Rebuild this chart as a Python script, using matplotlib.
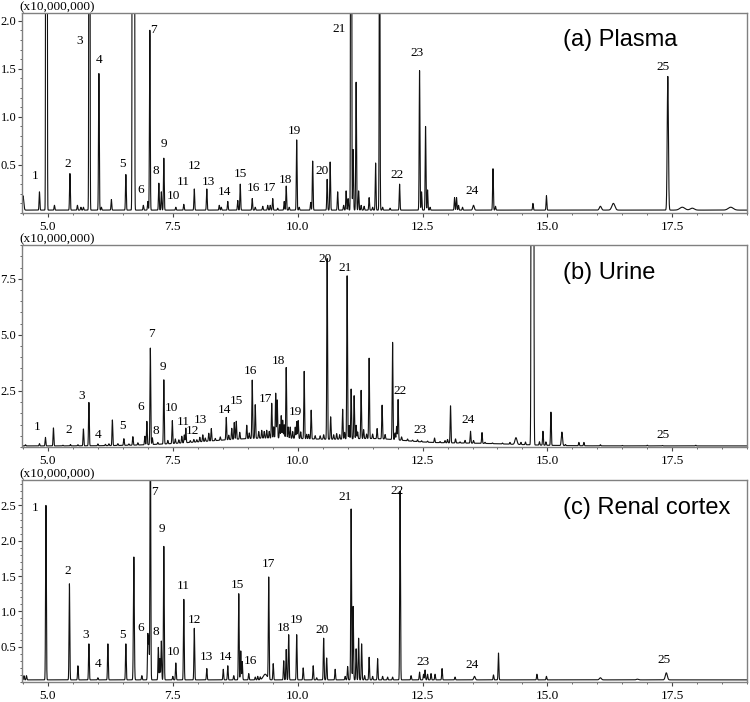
import numpy as np
import matplotlib
matplotlib.use("Agg")
import matplotlib.pyplot as plt
from matplotlib.ticker import MultipleLocator, FixedLocator, FormatStrFormatter

# ---------------- data (retention time [min], height [x1e7], width sigma [min]) -------------
plasma_peaks = [
    (4.50, 0.15, 0.015), (4.83, 0.19, 0.0075), (4.97, 100, 0.0072), (5.13, 0.05, 0.0075),
    (5.44, 0.38, 0.0075), (5.59, 0.05, 0.0075), (5.66, 0.03, 0.0075), (5.71, 0.03, 0.0075),
    (5.83, 20, 0.007), (6.02, 1.42, 0.0075), (6.07, 0.03, 0.0075), (6.27, 0.11, 0.0075),
    (6.56, 0.37, 0.0075), (6.71, 300, 0.009), (6.91, 0.05, 0.0075), (7.00, 0.09, 0.0075),
    (7.04, 1.87, 0.0075), (7.22, 0.28, 0.0075), (7.27, 0.19, 0.0075), (7.32, 0.54, 0.0075),
    (7.56, 0.03, 0.0075), (7.72, 0.06, 0.0075), (7.93, 0.22, 0.0075), (8.18, 0.22, 0.0075),
    (8.43, 0.05, 0.0075), (8.47, 0.03, 0.0075), (8.60, 0.09, 0.0075), (8.80, 0.10, 0.0075),
    (8.85, 0.27, 0.0075), (9.09, 0.12, 0.0075), (9.15, 0.03, 0.0075), (9.30, 0.04, 0.0075),
    (9.40, 0.05, 0.0075), (9.45, 0.05, 0.0075), (9.50, 0.12, 0.0075), (9.60, 0.02, 0.0075),
    (9.73, 0.09, 0.0075), (9.77, 0.25, 0.0075), (9.83, 0.03, 0.0075), (9.98, 0.73, 0.0075),
    (10.03, 0.03, 0.0075), (10.26, 0.08, 0.0075), (10.30, 0.51, 0.0075), (10.59, 0.32, 0.0075),
    (10.65, 0.50, 0.0075), (10.80, 0.19, 0.0075), (10.92, 0.05, 0.0075), (10.97, 0.20, 0.0075),
    (11.01, 0.12, 0.0075), (11.07, 20, 0.007), (11.11, 0.63, 0.0075), (11.17, 1.33, 0.0075),
    (11.22, 0.20, 0.0075), (11.27, 0.05, 0.0075), (11.33, 0.04, 0.0075), (11.43, 0.13, 0.0075),
    (11.50, 0.03, 0.0075), (11.56, 0.49, 0.0075), (11.64, 4.0, 0.007), (11.70, 0.03, 0.0075),
    (11.85, 0.02, 0.0075), (12.04, 0.27, 0.0075), (12.44, 1.45, 0.0075), (12.48, 0.19, 0.0075),
    (12.56, 0.87, 0.0075), (12.60, 0.21, 0.0075), (12.65, 0.03, 0.0075), (13.14, 0.13, 0.0075),
    (13.18, 0.13, 0.0075), (13.22, 0.05, 0.0075), (13.30, 0.03, 0.0075), (13.52, 0.05, 0.015),
    (13.91, 0.43, 0.0075), (13.96, 0.04, 0.0075), (14.71, 0.07, 0.0075), (14.98, 0.15, 0.0075),
    (16.06, 0.04, 0.02), (16.32, 0.07, 0.03), (17.41, 1.39, 0.012), (17.70, 0.03, 0.05),
    (17.90, 0.02, 0.04), (18.67, 0.03, 0.05),
]
plasma_baseline = 0.03
plasma_labels = ["1", "2", "3", "4", "5", "6", "7", "8", "9", "10", "11", "12", "13",
                 "14", "15", "16", "17", "18", "19", "20", "21", "22", "23", "24", "25"]
plasma_label_pos = [
    (4.74, 0.38), (5.39, 0.51), (5.64, 1.79), (6.02, 1.59), (6.49, 0.51), (6.86, 0.24),
    (7.12, 1.90), (7.15, 0.44), (7.32, 0.72), (7.51, 0.18), (7.71, 0.32), (7.93, 0.49),
    (8.21, 0.32), (8.53, 0.22), (8.86, 0.41), (9.11, 0.26), (9.43, 0.26), (9.76, 0.34),
    (9.93, 0.85), (10.49, 0.44), (10.82, 1.91), (11.99, 0.40), (12.39, 1.66), (13.49, 0.23),
    (17.31, 1.52),
]

urine_peaks = [
    # broad background humps
    (9.5, 0.35, 1.3), (11.6, 0.20, 0.6), (13.3, 0.12, 1.0),
    (4.55, 0.05, 0.0075), (4.83, 0.10, 0.0075), (4.95, 0.38, 0.0075), (5.11, 0.80, 0.0075),
    (5.30, 0.03, 0.0075), (5.45, 0.06, 0.0075), (5.60, 0.05, 0.0075), (5.71, 0.75, 0.0075),
    (5.82, 1.93, 0.0075), (6.00, 0.08, 0.0075), (6.15, 0.06, 0.0075), (6.22, 0.08, 0.0075),
    (6.29, 1.14, 0.0075), (6.40, 0.08, 0.0075), (6.52, 0.30, 0.0075), (6.62, 0.06, 0.0075),
    (6.70, 0.38, 0.0075), (6.80, 0.10, 0.0075), (6.94, 0.38, 0.0075), (6.98, 1.04, 0.0075),
    (7.05, 4.30, 0.0075), (7.09, 0.30, 0.0075), (7.20, 0.08, 0.0075), (7.32, 2.86, 0.0075),
    (7.40, 0.15, 0.0075), (7.49, 1.02, 0.0075), (7.55, 0.20, 0.0075), (7.62, 0.15, 0.0075),
    (7.68, 0.30, 0.0075), (7.73, 0.35, 0.0075), (7.76, 0.65, 0.0075), (7.85, 0.08, 0.0075),
    (7.92, 0.12, 0.0075), (7.98, 0.10, 0.0075), (8.04, 0.20, 0.0075), (8.10, 0.30, 0.0075),
    (8.15, 0.15, 0.0075), (8.22, 0.35, 0.0075), (8.27, 0.55, 0.0075), (8.35, 0.10, 0.0075),
    (8.45, 0.15, 0.0075), (8.57, 1.00, 0.0075), (8.62, 0.20, 0.0075), (8.68, 0.50, 0.0075),
    (8.73, 0.75, 0.0075), (8.77, 0.80, 0.0075), (8.84, 0.30, 0.0075), (8.98, 0.60, 0.0075),
    (9.03, 0.25, 0.0075), (9.09, 2.60, 0.0075), (9.15, 1.50, 0.0075), (9.22, 0.30, 0.0075),
    (9.28, 0.35, 0.0075), (9.33, 0.30, 0.0075), (9.38, 0.35, 0.0075), (9.43, 0.30, 0.0075),
    (9.48, 1.55, 0.0075), (9.52, 0.50, 0.0075), (9.56, 2.00, 0.0075), (9.59, 1.70, 0.0075),
    (9.64, 0.60, 0.0075), (9.67, 1.00, 0.0075), (9.70, 0.80, 0.0075), (9.73, 0.60, 0.0075),
    (9.77, 3.15, 0.0075), (9.81, 0.50, 0.0075), (9.85, 0.50, 0.0075), (9.90, 0.30, 0.0075),
    (9.95, 0.50, 0.0075), (9.98, 0.75, 0.0075), (10.01, 0.80, 0.0075), (10.06, 0.30, 0.0075),
    (10.13, 3.00, 0.0075), (10.18, 0.20, 0.0075), (10.22, 0.20, 0.0075), (10.27, 1.28, 0.0075),
    (10.35, 0.15, 0.0075), (10.45, 0.15, 0.0075), (10.52, 0.20, 0.0075), (10.59, 8.05, 0.0075),
    (10.66, 1.00, 0.0075), (10.72, 0.20, 0.0075), (10.78, 0.25, 0.0075), (10.84, 0.20, 0.0075),
    (10.90, 1.33, 0.0075), (10.94, 0.30, 0.0075), (10.99, 7.27, 0.0075), (11.03, 0.60, 0.0075),
    (11.07, 2.22, 0.0075), (11.13, 1.92, 0.0075), (11.17, 0.60, 0.0075), (11.20, 0.30, 0.0075),
    (11.27, 2.15, 0.0075), (11.32, 0.40, 0.0075), (11.38, 0.20, 0.0075), (11.43, 3.58, 0.0075),
    (11.50, 0.20, 0.0075), (11.59, 0.45, 0.0075), (11.69, 1.50, 0.0075), (11.75, 0.20, 0.0075),
    (11.90, 4.33, 0.0075), (11.95, 0.30, 0.0075), (11.98, 0.60, 0.0075), (12.01, 1.80, 0.0075),
    (12.08, 0.15, 0.0075), (12.20, 0.08, 0.0075), (12.30, 0.05, 0.0075), (12.40, 0.08, 0.0075),
    (12.48, 0.05, 0.0075), (12.60, 0.05, 0.0075), (12.74, 0.20, 0.0075), (12.85, 0.05, 0.0075),
    (12.95, 0.10, 0.0075), (13.00, 0.15, 0.0075), (13.06, 1.65, 0.0075), (13.16, 0.18, 0.0075),
    (13.25, 0.05, 0.0075), (13.35, 0.12, 0.0075), (13.46, 0.53, 0.0075), (13.52, 0.12, 0.0075),
    (13.69, 0.48, 0.0075), (13.75, 0.05, 0.0075), (13.90, 0.03, 0.0075), (14.10, 0.04, 0.0075),
    (14.25, 0.08, 0.0075), (14.37, 0.30, 0.02), (14.47, 0.10, 0.0075), (14.56, 0.12, 0.0075),
    (14.70, 500, 0.011), (14.84, 0.15, 0.0075), (14.91, 0.62, 0.0075), (14.97, 0.15, 0.0075),
    (15.07, 1.48, 0.0075), (15.29, 0.60, 0.012), (15.36, 0.05, 0.0075), (15.63, 0.15, 0.0075),
    (15.73, 0.15, 0.0075), (16.06, 0.05, 0.0075), (16.50, 0.02, 0.0075), (17.00, 0.03, 0.0075),
    (17.30, 0.02, 0.0075), (17.97, 0.03, 0.0075),
]
urine_baseline = 0.05
urine_labels = plasma_labels
urine_label_pos = [
    (4.79, 0.89), (5.41, 0.75), (5.67, 2.26), (6.00, 0.52), (6.50, 0.92), (6.86, 1.79),
    (7.08, 5.03), (7.15, 0.70), (7.30, 3.57), (7.47, 1.76), (7.70, 1.12), (7.90, 0.71),
    (8.06, 1.22), (8.53, 1.64), (8.78, 2.05), (9.05, 3.38), (9.36, 2.16), (9.62, 3.84),
    (9.95, 1.56), (10.55, 8.38), (10.95, 7.99), (12.05, 2.49), (12.44, 0.78), (13.41, 1.22),
    (17.31, 0.52),
]

cortex_peaks = [
    (4.52, 0.06, 0.0075), (4.57, 0.06, 0.0075), (4.96, 2.47, 0.0075), (5.43, 1.36, 0.0075),
    (5.60, 0.20, 0.0075), (5.82, 0.51, 0.0075), (6.00, 0.03, 0.0075), (6.20, 0.51, 0.0075),
    (6.56, 0.51, 0.0075), (6.72, 1.74, 0.009), (6.88, 0.06, 0.0075), (7.00, 0.64, 0.0075),
    (7.02, 0.60, 0.0075), (7.05, 4.00, 0.0075), (7.21, 0.46, 0.0075), (7.24, 0.30, 0.0075),
    (7.27, 0.55, 0.0075), (7.32, 1.89, 0.0075), (7.50, 0.05, 0.0075), (7.56, 0.24, 0.0075),
    (7.72, 1.14, 0.0075), (7.93, 0.73, 0.0075), (8.18, 0.16, 0.0075), (8.51, 0.15, 0.0075),
    (8.60, 0.20, 0.0075), (8.72, 0.06, 0.0075), (8.82, 1.22, 0.0075), (8.86, 0.41, 0.0075),
    (8.89, 0.26, 0.0075), (9.02, 0.09, 0.0075), (9.15, 0.04, 0.0075), (9.20, 0.05, 0.0075),
    (9.25, 0.04, 0.0075), (9.35, 0.08, 0.04), (9.42, 1.44, 0.0075), (9.51, 0.23, 0.0075),
    (9.72, 0.27, 0.0075), (9.77, 0.43, 0.0075), (9.82, 0.64, 0.0075), (9.98, 0.64, 0.0075),
    (10.11, 0.17, 0.0075), (10.31, 0.20, 0.0075), (10.38, 0.03, 0.0075), (10.52, 0.59, 0.0075),
    (10.58, 0.31, 0.0075), (10.75, 0.15, 0.0075), (10.95, 0.05, 0.0075), (11.00, 0.19, 0.0075),
    (11.07, 2.42, 0.0075), (11.11, 1.04, 0.0075), (11.17, 0.44, 0.0075), (11.22, 0.59, 0.0075),
    (11.28, 0.51, 0.0075), (11.34, 0.06, 0.0075), (11.43, 0.32, 0.0075), (11.50, 0.05, 0.0075),
    (11.60, 0.30, 0.0075), (11.70, 0.05, 0.0075), (11.80, 0.04, 0.0075), (11.90, 0.04, 0.0075),
    (12.05, 2.67, 0.0075), (12.27, 0.06, 0.0075), (12.44, 0.11, 0.0075), (12.52, 0.08, 0.0075),
    (12.55, 0.14, 0.0075), (12.60, 0.08, 0.0075), (12.67, 0.09, 0.0075), (12.75, 0.08, 0.0075),
    (12.89, 0.16, 0.0075), (13.15, 0.04, 0.0075), (13.54, 0.05, 0.015), (13.92, 0.07, 0.0075),
    (14.02, 0.38, 0.0075), (14.79, 0.08, 0.0075), (14.98, 0.05, 0.0075), (16.06, 0.03, 0.02),
    (16.80, 0.01, 0.02), (17.38, 0.10, 0.02),
]
cortex_baseline = 0.03
cortex_labels = plasma_labels
cortex_label_pos = [
    (4.74, 2.46), (5.39, 1.57), (5.76, 0.67), (6.00, 0.25), (6.49, 0.67), (6.86, 0.77),
    (7.13, 2.69), (7.15, 0.71), (7.29, 2.17), (7.51, 0.42), (7.71, 1.36), (7.93, 0.88),
    (8.18, 0.36), (8.55, 0.36), (8.80, 1.37), (9.05, 0.30), (9.42, 1.67), (9.72, 0.77),
    (9.98, 0.88), (10.48, 0.74), (10.95, 2.62), (11.99, 2.70), (12.51, 0.29), (13.49, 0.24),
    (17.33, 0.31),
]

panel_titles = ["(a) Plasma", "(b) Urine", "(c) Renal cortex"]
x_ticks = [5.0, 7.5, 10.0, 12.5, 15.0, 17.5]
plasma_yticks = [0.5, 1.0, 1.5, 2.0]
urine_yticks = [2.5, 5.0, 7.5]
cortex_yticks = [0.5, 1.0, 1.5, 2.0, 2.5]
scale_text = "(x10,000,000)"

# ---------------- drawing ----------------
fig = plt.figure(figsize=(7.5, 7.02), dpi=100)
serif = ["Liberation Serif", "DejaVu Serif"]
sans = ["Liberation Sans", "DejaVu Sans"]

x = np.arange(4.40, 19.10, 0.001)

def trace(peaks, base):
    y = np.full_like(x, base)
    for rt, h, w in peaks:
        y += h * np.exp(-0.5 * ((x - rt) / w) ** 2)
    return y

panels = [
    (plasma_peaks, plasma_baseline, plasma_labels, plasma_label_pos, plasma_yticks, 0.1, (0, 2.08),
     [0.0293, 0.6966, 0.967, 0.2849]),
    (urine_peaks, urine_baseline, urine_labels, urine_label_pos, urine_yticks, 0.5, (0, 9.0),
     [0.0293, 0.3632, 0.967, 0.2877]),
    (cortex_peaks, cortex_baseline, cortex_labels, cortex_label_pos, cortex_yticks, 0.1, (0, 2.86),
     [0.0293, 0.0285, 0.967, 0.2877]),
]

for i, (peaks, base, labels, lpos, yt, yminor, ylim, rect) in enumerate(panels):
    ax = fig.add_axes(rect)
    ax.plot(x, trace(peaks, base), color="#111111", lw=0.8)
    ax.set_xlim(4.48, 19.0)
    ax.set_ylim(*ylim)
    for s in ax.spines.values():
        s.set_color("#808080")
        s.set_linewidth(1.0)
    ax.xaxis.set_major_locator(FixedLocator(x_ticks))
    ax.xaxis.set_minor_locator(MultipleLocator(0.5))
    ax.yaxis.set_major_locator(FixedLocator(yt))
    ax.yaxis.set_minor_locator(MultipleLocator(yminor))
    ax.xaxis.set_major_formatter(FormatStrFormatter("%.1f"))
    ax.yaxis.set_major_formatter(FormatStrFormatter("%.1f"))
    ax.tick_params(which="major", direction="out", length=3, width=0.8, color="#444444")
    ax.tick_params(which="minor", direction="out", length=1.5, width=0.7, color="#666666")
    ax.tick_params(axis="x", which="major", labelsize=9.5, pad=3)
    ax.tick_params(axis="y", which="major", labelsize=9, pad=1)
    for lab in ax.get_xticklabels() + ax.get_yticklabels():
        lab.set_family(serif)
    for txt, (lx, ly) in zip(labels, lpos):
        ax.text(lx, ly, txt, ha="center", va="center", fontsize=9.5, family=serif)
    ax.text(0.746, 0.863, panel_titles[i], transform=ax.transAxes, ha="left", va="center",
            fontsize=17, family=sans)
    ax.text(-0.003, 1.0, scale_text, transform=ax.transAxes, ha="left", va="bottom",
            fontsize=9.5, family=serif)

fig.savefig("out.png", dpi=100)
